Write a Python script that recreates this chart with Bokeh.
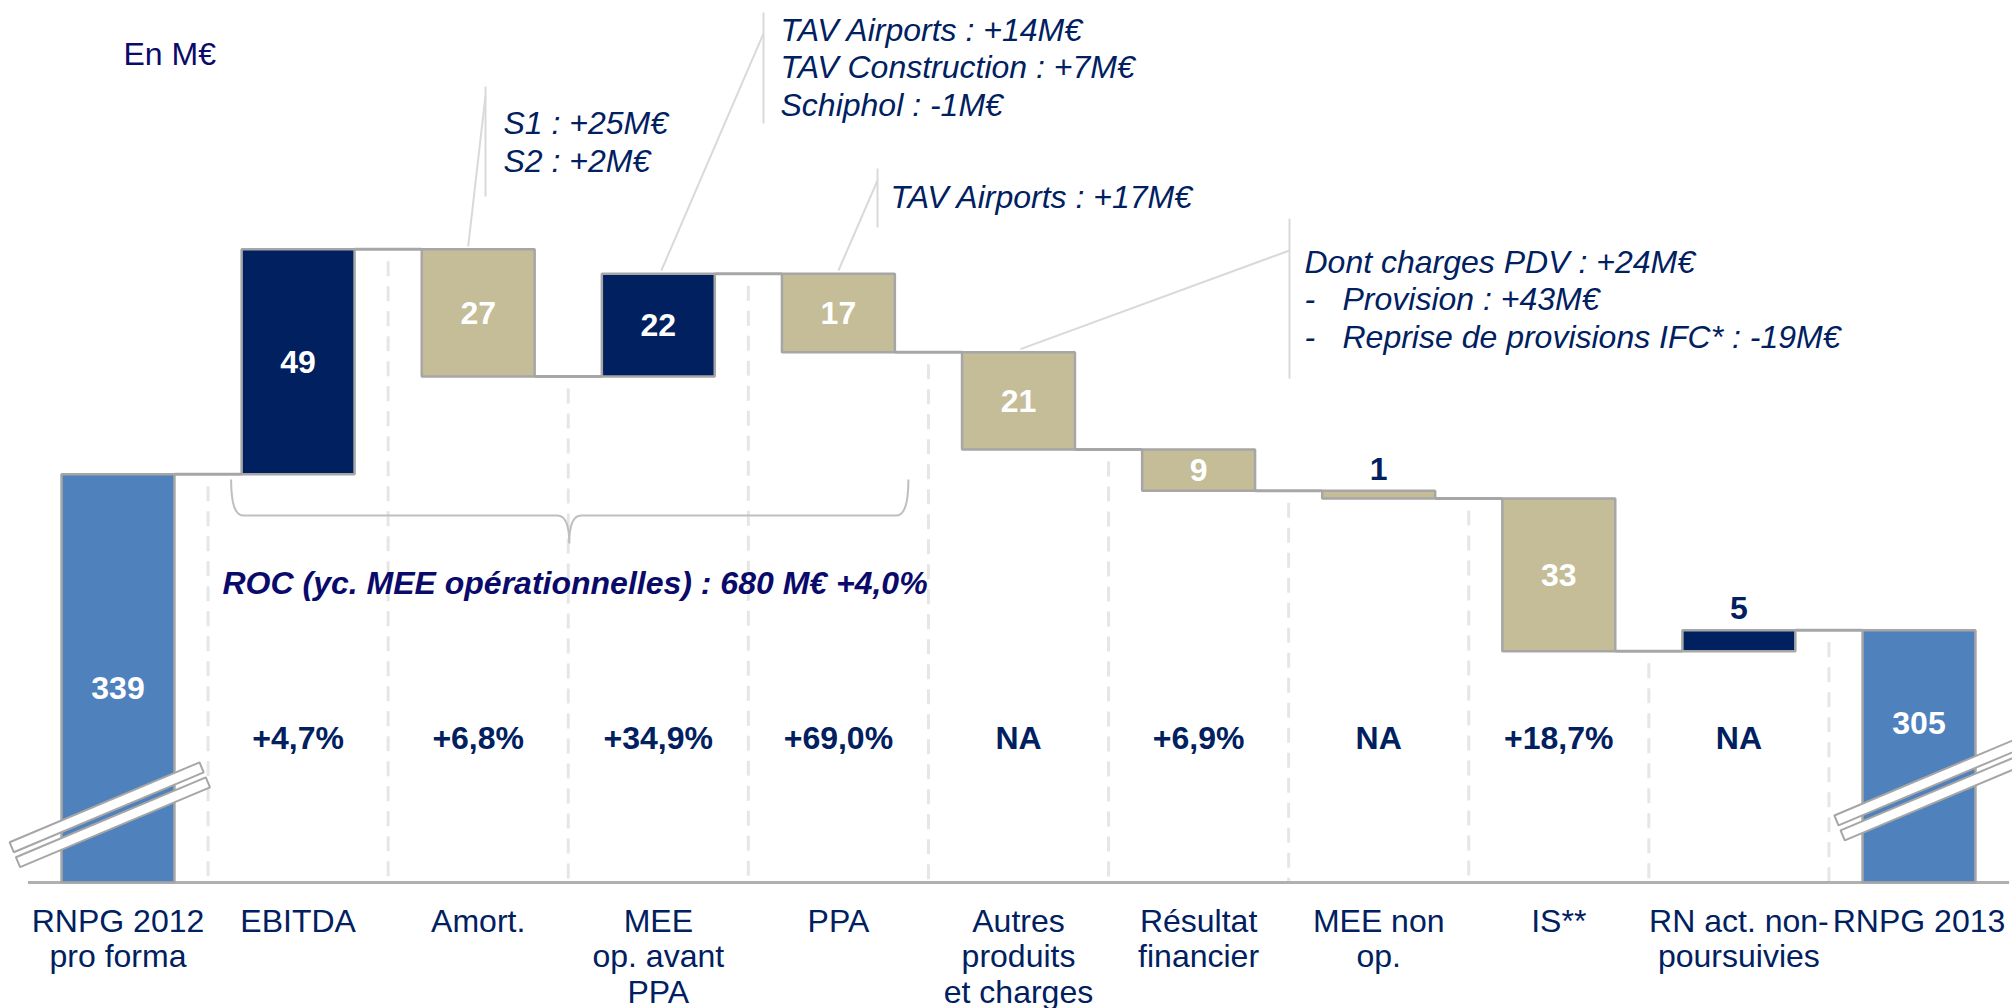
import math
from bokeh.plotting import figure
from bokeh.models import Range1d
from bokeh.core.properties import value
from bokeh.embed import file_html
from bokeh.resources import INLINE

# ---------------- data ----------------
categories = ["RNPG 2012\npro forma", "EBITDA", "Amort.", "MEE\nop. avant\nPPA", "PPA",
              "Autres\nproduits\net charges", "Résultat\nfinancier", "MEE non\nop.", "IS**",
              "RN act. non-\npoursuivies", "RNPG 2013"]
start_total = 339
end_total = 305
steps = [49, -27.7, 22.4, -17.1, -21.2, -9.0, -1.7, -33.3, 4.6]
step_labels = ["49", "27", "22", "17", "21", "9", "1", "33", "5"]
total_labels = ["339", "305"]
total_label_levels = [292.5, 284.7]
pct_labels = ["+4,7%", "+6,8%", "+34,9%", "+69,0%", "NA", "+6,9%", "NA", "+18,7%", "NA"]
axis_floor = 250  # broken value axis starts here
unit_label = "En M€"
roc_label = "ROC (yc. MEE opérationnelles) : 680 M€ +4,0%"
note_s1 = ["S1 : +25M€", "S2 : +2M€"]
note_mee = ["TAV Airports : +14M€", "TAV Construction : +7M€", "Schiphol : -1M€"]
note_ppa = ["TAV Airports : +17M€"]
note_autres_head = "Dont charges PDV : +24M€"
note_autres_items = ["Provision : +43M€", "Reprise de provisions IFC* : -19M€"]

# ---------------- styles ----------------
BLUE = "#4f81bd"
NAVY = "#002060"
TAN = "#c4bd97"
EDGE = "#a6a6a6"
TXT = "#002060"
PURP = "#0a0a6b"
FONT = value("Liberation Sans")
FS = "32px"

W, H = 2012, 1008
sx = 180.1          # px per category
sy = 4.588          # px per M€
X0 = -117.5 / sx
X1 = X0 + W / sx
Y1 = axis_floor + 882 / sy
Y0 = Y1 - H / sy


def X(px):
    return X0 + px / sx


def Y(py):
    return Y1 - py / sy


def PX(x):
    return (x - X0) * sx


def PY(y):
    return (Y1 - y) * sy


p = figure(width=W, height=H, x_range=Range1d(X0, X1), y_range=Range1d(Y0, Y1),
           output_backend="svg", toolbar_location=None, min_border=0)
p.axis.visible = False
p.grid.visible = False
p.outline_line_color = None
p.background_fill_color = "white"

n = len(categories)
bw = 0.627
levels = [start_total]
for s in steps:
    levels.append(levels[-1] + s)

tops = [start_total] + [max(levels[j], levels[j + 1]) for j in range(len(steps))] + [end_total]
bottoms = [axis_floor] + [min(levels[j], levels[j + 1]) for j in range(len(steps))] + [axis_floor]
colors = [BLUE] + [NAVY if s > 0 else TAN for s in steps] + [BLUE]
xs = list(range(n))

# separators (dashed)
sep_x, sep_y0, sep_y1 = [], [], []
for i in range(n - 1):
    sep_x.append(i + 0.5)
    sep_y0.append(levels[i] - 12 / sy)
    sep_y1.append(axis_floor)
p.segment(x0=sep_x, y0=sep_y0, x1=sep_x, y1=sep_y1, line_color="#e6e6e6",
          line_width=3, line_dash="15 10")

# baseline
p.segment(x0=[-0.5], y0=[axis_floor], x1=[n - 0.5], y1=[axis_floor], line_color="#b0b0b0", line_width=3)

# bars
p.quad(left=[x - bw / 2 for x in xs], right=[x + bw / 2 for x in xs], top=tops, bottom=bottoms,
       fill_color=colors, line_color=EDGE, line_width=2.5)

# connectors
cx0 = [i + bw / 2 for i in range(n - 1)]
cx1 = [i + 1 - bw / 2 for i in range(n - 1)]
p.segment(x0=cx0, y0=levels[:n - 1], x1=cx1, y1=levels[:n - 1], line_color=EDGE, line_width=3)


# break symbols on total bars
def strip_polys(cxp, cyp):
    th = math.radians(22.8)
    d = (math.cos(th), -math.sin(th))
    nd = (math.sin(th), math.cos(th))
    L, t, off = 206, 10.8, 8.1
    out = []
    for sgn in (-1, 1):
        mx = cxp + sgn * off * nd[0]
        my = cyp + sgn * off * nd[1]
        pts = []
        for a, b in ((-1, -1), (1, -1), (1, 1), (-1, 1)):
            pts.append((mx + a * L / 2 * d[0] + b * t / 2 * nd[0],
                        my + a * L / 2 * d[1] + b * t / 2 * nd[1]))
        out.append(([X(q[0]) for q in pts], [Y(q[1]) for q in pts]))
    return out


brk_xs, brk_ys = [], []
for idx, dxp, hp in ((0, -8.2, 67.7), (n - 1, 15.5, 94.5)):
    for px_, py_ in strip_polys(PX(idx) + dxp, PY(axis_floor) - hp):
        brk_xs.append(px_)
        brk_ys.append(py_)
p.patches(xs=brk_xs, ys=brk_ys, fill_color="white", line_color=EDGE, line_width=2)

# value labels
in_x, in_y, in_t = [], [], []
out_x, out_y, out_t = [], [], []
for k, lab in enumerate(total_labels):
    in_x.append(0 if k == 0 else n - 1)
    in_y.append(total_label_levels[k])
    in_t.append(lab)
for j, lab in enumerate(step_labels):
    i = j + 1
    hpx = (tops[i] - bottoms[i]) * sy
    if hpx >= 35:
        in_x.append(i)
        in_y.append((tops[i] + bottoms[i]) / 2)
        in_t.append(lab)
    else:
        out_x.append(i)
        out_y.append(tops[i] + 22 / sy)
        out_t.append(lab)
p.text(x=in_x, y=in_y, text=in_t, text_color="white", text_font=FONT, text_font_size=FS,
       text_font_style="bold", text_align="center", text_baseline="middle")
p.text(x=out_x, y=out_y, text=out_t, text_color=TXT, text_font=FONT, text_font_size=FS,
       text_font_style="bold", text_align="center", text_baseline="middle")

# percentage row
p.text(x=list(range(1, 1 + len(pct_labels))), y=[Y(737)] * len(pct_labels), text=pct_labels,
       text_color=TXT, text_font=FONT, text_font_size=FS, text_font_style="bold",
       text_align="center", text_baseline="middle")

# category labels (multi-line)
lx, ly, lt = [], [], []
for i, c in enumerate(categories):
    for k, line in enumerate(c.split("\n")):
        lx.append(i)
        ly.append(Y(920 + 35.5 * k))
        lt.append(line)
p.text(x=lx, y=ly, text=lt, text_color=TXT, text_font=FONT, text_font_size=FS,
       text_align="center", text_baseline="middle")

# unit label
p.text(x=[X(123)], y=[Y(53)], text=[unit_label], text_color=PURP, text_font=FONT,
       text_font_size=FS, text_align="left", text_baseline="middle")


# brace under operating items
def qbez(p0, p1, p2, m=8):
    pts = []
    for k in range(m + 1):
        t = k / m
        pts.append(((1 - t) ** 2 * p0[0] + 2 * (1 - t) * t * p1[0] + t * t * p2[0],
                    (1 - t) ** 2 * p0[1] + 2 * (1 - t) * t * p1[1] + t * t * p2[1]))
    return pts


bl, br, tip = PX(1) - 67, PX(4) + 70, PX(2.5) + 1
ytop, yh, ytip = 479, 515, 543
path = []
path += qbez((bl, ytop), (bl, yh), (bl + 12, yh))
path += qbez((tip - 12, yh), (tip, yh), (tip, ytip))
path += qbez((tip, ytip), (tip, yh), (tip + 12, yh))
path += qbez((br - 12, yh), (br, yh), (br, ytop))
p.line(x=[X(q[0]) for q in path], y=[Y(q[1]) for q in path], line_color="#bfbfbf", line_width=2)

p.text(x=[X(222)], y=[Y(582)], text=[roc_label], text_color=PURP, text_font=FONT,
       text_font_size=FS, text_font_style="bold italic", text_align="left",
       text_baseline="middle")

# callout notes with leader lines
notes = [
    dict(lines=note_s1, tx=503, ty=122, ls=38.5, cat=2, vx=485, v0=86, v1=196, s0=95, edx=-10),
    dict(lines=note_mee, tx=780, ty=29, ls=37.5, cat=3, vx=763, v0=12, v1=123, s0=33, edx=3),
    dict(lines=note_ppa, tx=890, ty=196, ls=37.5, cat=4, vx=877, v0=168, v1=227, s0=180, edx=0),
    dict(lines=[note_autres_head] + note_autres_items, tx=1304, ty=261, ls=37.5, cat=5, vx=1289,
         v0=218, v1=378, s0=250, edx=2, bullets=True),
]
lead_x0, lead_y0, lead_x1, lead_y1 = [], [], [], []
nx, ny, nt = [], [], []
for nt_ in notes:
    lead_x0 += [X(nt_["vx"]), X(nt_["vx"])]
    lead_y0 += [Y(nt_["v0"]), Y(nt_["s0"])]
    lead_x1 += [X(nt_["vx"]), X(PX(nt_["cat"]) + nt_["edx"])]
    lead_y1 += [Y(nt_["v1"]), Y(PY(tops[nt_["cat"]]) - 3)]
    for k, line in enumerate(nt_["lines"]):
        yy = Y(nt_["ty"] + nt_["ls"] * k)
        if nt_.get("bullets") and k > 0:
            nx.append(X(nt_["tx"]))
            ny.append(yy)
            nt.append("-")
            nx.append(X(nt_["tx"] + 38))
        else:
            nx.append(X(nt_["tx"]))
        ny.append(yy)
        nt.append(line)
p.segment(x0=lead_x0, y0=lead_y0, x1=lead_x1, y1=lead_y1, line_color="#d9d9d9", line_width=2)
p.text(x=nx, y=ny, text=nt, text_color=TXT, text_font=FONT, text_font_size=FS,
       text_font_style="italic", text_align="left", text_baseline="middle")

open("out.html", "w").write(file_html(p, INLINE))
